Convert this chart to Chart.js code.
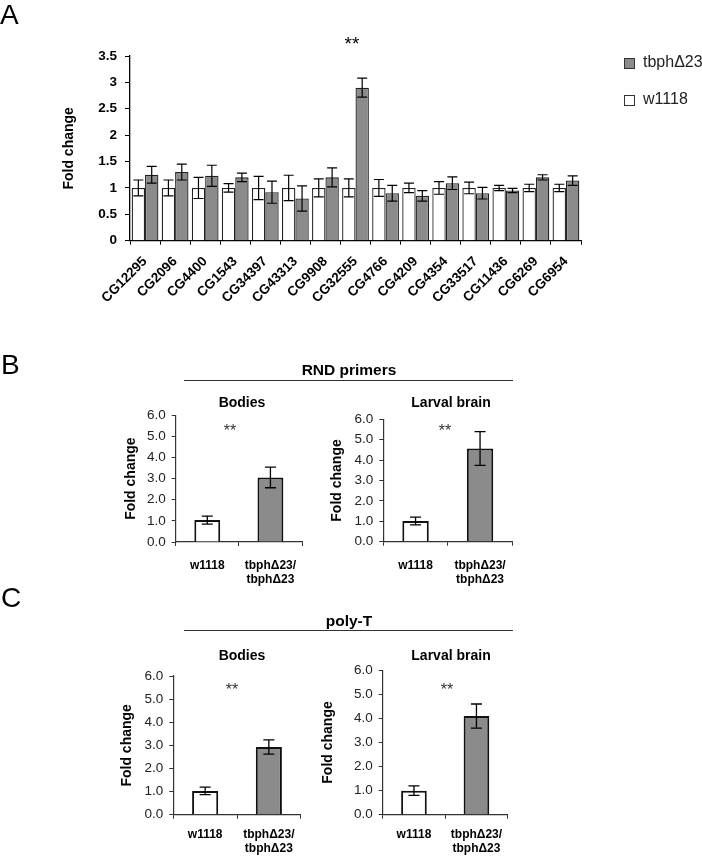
<!DOCTYPE html>
<html><head><meta charset="utf-8">
<script src="https://cdn.jsdelivr.net/npm/chart.js@4/dist/chart.umd.min.js"></script>
<style>
html,body{margin:0;padding:0;background:#fff;}
#root{position:relative;width:702px;height:856px;overflow:hidden;font-family:"Liberation Sans",Arial,sans-serif;background:#fff;}
.t{position:absolute;white-space:nowrap;line-height:1;color:#000;will-change:transform;}
.c{transform:translateX(-50%);}
canvas{position:absolute;}
</style></head><body><div id="root">
<div class="t" style="left:0px;top:1px;font-size:28px;">A</div>
<div class="t" style="left:1px;top:351px;font-size:28px;">B</div>
<div class="t" style="left:1px;top:584px;font-size:28px;">C</div>
<div class="t c" style="left:352px;top:34px;font-size:19px;">**</div>
<div style="position:absolute;left:624px;top:58px;width:9px;height:9px;background:#8b8b8b;border:1px solid #333;"></div>
<div class="t" style="left:643px;top:54px;font-size:16px;color:#222;">tbphΔ23</div>
<div style="position:absolute;left:624px;top:95px;width:9px;height:9px;background:#fff;border:1px solid #333;"></div>
<div class="t" style="left:643px;top:91px;font-size:16px;color:#222;">w1118</div>

<div class="t c" style="left:349px;top:362px;font-size:15.5px;font-weight:bold;">RND primers</div>
<div style="position:absolute;left:184px;top:380px;width:329px;height:1px;background:#333;"></div>
<div class="t c" style="left:241.5px;top:395px;font-size:14px;font-weight:bold;">Bodies</div>
<div class="t c" style="left:451px;top:395px;font-size:14px;font-weight:bold;">Larval brain</div>
<div class="t c" style="left:230px;top:423px;font-size:16px;color:#333;">**</div>
<div class="t c" style="left:445px;top:423px;font-size:16px;color:#333;">**</div>

<div class="t c" style="left:348.5px;top:613px;font-size:15.5px;font-weight:bold;">poly-T</div>
<div style="position:absolute;left:184px;top:630px;width:329px;height:1px;background:#333;"></div>
<div class="t c" style="left:241.5px;top:648px;font-size:14px;font-weight:bold;">Bodies</div>
<div class="t c" style="left:451px;top:648px;font-size:14px;font-weight:bold;">Larval brain</div>
<div class="t c" style="left:231.7px;top:682px;font-size:16px;color:#333;">**</div>
<div class="t c" style="left:446.7px;top:682px;font-size:16px;color:#333;">**</div>

<canvas id="cA"></canvas>
<canvas id="cBb"></canvas>
<canvas id="cBl"></canvas>
<canvas id="cCb"></canvas>
<canvas id="cCl"></canvas>
</div>
<script>
// ---------- DATA ----------
const genesA = ['CG12295','CG2096','CG4400','CG1543','CG34397','CG43313','CG9908','CG32555','CG4766','CG4209','CG4354','CG33517','CG11436','CG6269','CG6954'];
const w1118A    = [1,1,1,1,1,1,1,1,1,1,1,1,1,1,1];
const w1118ErrA = [0.15,0.15,0.20,0.08,0.22,0.24,0.17,0.17,0.16,0.09,0.12,0.11,0.05,0.07,0.07];
const tbphA     = [1.25,1.30,1.23,1.20,0.92,0.80,1.20,2.90,0.90,0.85,1.09,0.90,0.95,1.20,1.14];
const tbphErrA  = [0.16,0.15,0.20,0.08,0.21,0.24,0.18,0.18,0.15,0.10,0.12,0.11,0.04,0.05,0.09];
const yTicksA   = [0,0.5,1,1.5,2,2.5,3,3.5];

const groupsBC  = ['w1118', ['tbphΔ23/','tbphΔ23']];
const rndBodies     = [1.04, 3.06];
const rndBodiesErr  = [0.19, 0.49];
const rndBrain      = [1.01, 4.57];
const rndBrainErr   = [0.19, 0.83];
const polyBodies    = [1.03, 2.93];
const polyBodiesErr = [0.16, 0.31];
const polyBrain     = [1.00, 4.10];
const polyBrainErr  = [0.20, 0.50];
const yTicksBC      = [0,1,2,3,4,5,6];

// ---------- STYLE ----------
const FF = '"Liberation Sans", Arial, sans-serif';
const GRAY = '#8b8b8b';

const errPlugin = {
  id:'errbars',
  afterDatasetsDraw(chart, args, opts){
    const ctx = chart.ctx, y = chart.scales.y;
    chart.data.datasets.forEach((ds,i)=>{
      if(!ds.errorBars) return;
      const meta = chart.getDatasetMeta(i);
      meta.data.forEach((bar,j)=>{
        const v = ds.data[j], e = ds.errorBars[j];
        const yt = y.getPixelForValue(v+e), yb = y.getPixelForValue(v-e);
        const x = bar.x, cw = opts.cap;
        ctx.save();
        ctx.strokeStyle = '#000'; ctx.lineWidth = opts.width;
        ctx.beginPath();
        ctx.moveTo(x,yt); ctx.lineTo(x,yb);
        ctx.moveTo(x-cw/2,yt); ctx.lineTo(x+cw/2,yt);
        ctx.moveTo(x-cw/2,yb); ctx.lineTo(x+cw/2,yb);
        ctx.stroke(); ctx.restore();
      });
    });
  }
};

function makeBar(id, g, cfg){
  const cv = document.getElementById(id);
  cv.width = g.w; cv.height = g.h;
  cv.style.left = g.x+'px'; cv.style.top = g.y+'px';
  const lh = cfg.titleSize*1.2;
  const scaleLeft = g.titleX - 4 - lh/2;
  return new Chart(cv, {
    type:'bar',
    data:{labels: cfg.labels, datasets: cfg.datasets},
    options:{
      responsive:false, animation:false, devicePixelRatio:1,
      layout:{padding:{left: scaleLeft - g.x, top: g.t - g.y, right: g.x + g.w - g.r, bottom:0}},
      datasets:{bar:{barPercentage:cfg.barPct, categoryPercentage:cfg.catPct}},
      plugins:{legend:{display:false}, tooltip:{enabled:false}, errbars:{cap:cfg.cap, width:cfg.errW}},
      scales:{
        x:{
          type:'category', offset:true,
          grid:{display:true, drawOnChartArea:false, drawTicks:true, tickLength:cfg.xTickLen, color:cfg.axisColor, offset:true, lineWidth:1},
          border:{display:true, color:cfg.axisColor, width:cfg.axisW},
          ticks:{autoSkip:false, maxRotation:cfg.rot, minRotation:cfg.rot, padding:cfg.xPad, color:'#000', font:cfg.xFont},
          afterFit(s){ s.height = g.y + g.h - g.b; }
        },
        y:{
          min:cfg.yTicks[0], max:cfg.yTicks[cfg.yTicks.length-1],
          afterBuildTicks(s){ s.ticks = cfg.yTicks.map(v=>({value:v})); },
          ticks:{padding:cfg.yPad, color:cfg.yTickColor, font:cfg.yFont, callback:cfg.yFmt},
          grid:{drawOnChartArea:false, drawTicks:true, tickLength:cfg.yTickLen, color:cfg.axisColor, lineWidth:1},
          border:{display:true, color:cfg.axisColor, width:cfg.axisW},
          title:{display:true, text:'Fold change', color:'#000', font:{size:cfg.titleSize, weight:'bold', family:FF}, padding:{top:4,bottom:4}},
          afterFit(s){ s.width = g.l - scaleLeft; }
        }
      }
    },
    plugins:[errPlugin]
  });
}

// Panel A
makeBar('cA', {x:0,y:0,w:600,h:330,l:130,t:56,r:581,b:240.7,titleX:68.7}, {
  labels: genesA,
  datasets:[
    {label:'w1118', data:w1118A, errorBars:w1118ErrA, backgroundColor:'#fff', borderColor:'#222', borderWidth:1.3},
    {label:'tbphΔ23', data:tbphA, errorBars:tbphErrA, backgroundColor:GRAY, borderColor:'#222', borderWidth:1.3}
  ],
  barPct:1.0, catPct:0.89, cap:10, errW:1.2,
  xTickLen:4, xPad:9, rot:45, xFont:{size:13.5, weight:'bold', family:FF},
  axisColor:'#000', axisW:1.3,
  yTicks:yTicksA, yPad:8, yTickLen:5, yTickColor:'#000', yFont:{size:13.5, weight:'bold', family:FF}, yFmt:(v)=>String(v),
  titleSize:14
});

const bcBase = {
  labels: groupsBC,
  barPct:0.41, catPct:1.0, cap:11, errW:1.3,
  xTickLen:4, xPad:13, rot:0, xFont:{size:12, weight:'bold', family:FF, lineHeight:1.15},
  axisColor:'#333', axisW:1.2,
  yTicks:yTicksBC, yPad:6, yTickLen:4, yTickColor:'#222', yFont:{size:13.5, family:FF}, yFmt:(v)=>Number(v).toFixed(1),
  titleSize:14
};
function ds2(vals, errs){
  return [{label:'fold', data:vals, errorBars:errs, backgroundColor:['#fff',GRAY], borderColor:'#111', borderWidth:2}];
}
makeBar('cBb', {x:100,y:400,w:220,h:200,l:175.7,t:415.3,r:302,b:542,titleX:131}, Object.assign({}, bcBase, {datasets:ds2(rndBodies, rndBodiesErr)}));
makeBar('cBl', {x:310,y:400,w:220,h:200,l:383.3,t:419.3,r:512.3,b:541.7,titleX:337}, Object.assign({}, bcBase, {datasets:ds2(rndBrain, rndBrainErr)}));
makeBar('cCb', {x:100,y:660,w:220,h:196,l:173.3,t:676,r:300.7,b:814.7,titleX:127.5}, Object.assign({}, bcBase, {xPad:9, datasets:ds2(polyBodies, polyBodiesErr)}));
makeBar('cCl', {x:310,y:655,w:220,h:201,l:382.7,t:670.3,r:507.7,b:814.7,titleX:328.5}, Object.assign({}, bcBase, {xPad:9, datasets:ds2(polyBrain, polyBrainErr)}));
</script>
</body></html>
